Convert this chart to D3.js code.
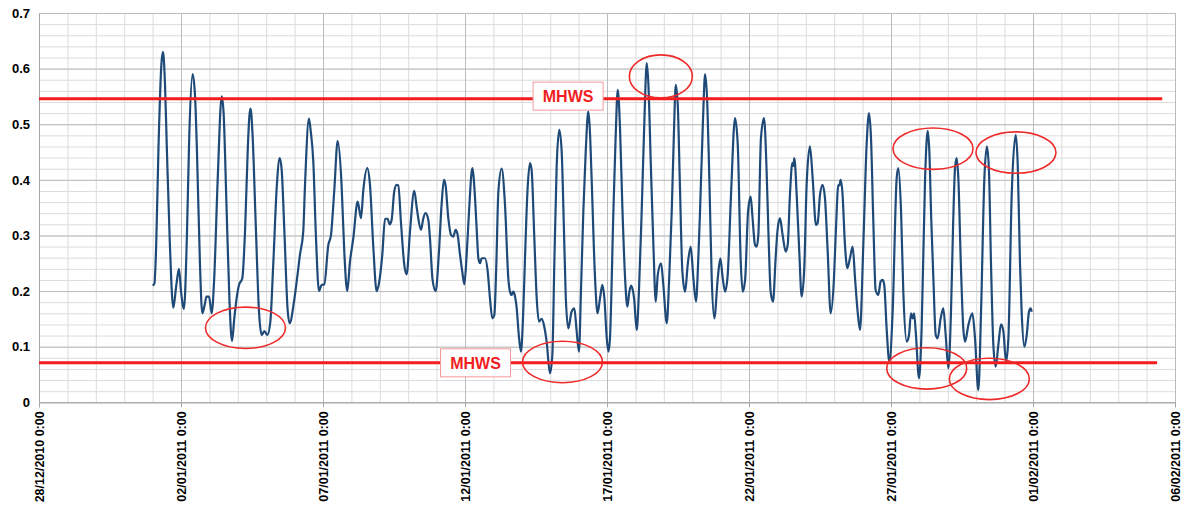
<!DOCTYPE html>
<html>
<head>
<meta charset="utf-8">
<script src="https://cdn.jsdelivr.net/npm/d3@7"></script>
<style>
  body { margin: 0; background: #fff; }
  svg { display: block; font-family: "Liberation Sans", Arial, sans-serif; }
</style>
</head>
<body>
<div id="chart"></div>
<script>
// Size of the picture
var width = 1184;
var height = 508;
var margin = {top: 13, right: 9, bottom: 105.7, left: 39};

// Axis extent and ticks
var xStart = new Date(2010, 11, 28);
var xEnd = new Date(2011, 1, 6);
var seriesStart = new Date(2011, 0, 1);   // first reading, 01/01/2011 0:00
var yTicks = [0, 0.1, 0.2, 0.3, 0.4, 0.5, 0.6, 0.7];
var yTickLabels = ["0", "0.1", "0.2", "0.3", "0.4", "0.5", "0.6", "0.7"];

// readings: [hours since 01/01/2011 0:00, water level]
var readings = [
  [0,0.21],[1.5,0.213],[3,0.28],[5,0.46],[7.5,0.61],[8.8,0.63],[10.5,0.57],[12,0.46],[14.5,0.29],[17.5,0.17],
  [20,0.21],[22.3,0.24],[24,0.2],[26.5,0.168],[29,0.3],[31,0.48],[33.8,0.59],[35.8,0.553],[37.5,0.45],[40,0.25],
  [42,0.16],[44,0.175],[45.5,0.19],[47.7,0.19],[49.9,0.16],[52,0.22],[55,0.4],[58.4,0.55],[60,0.52],[62.5,0.35],
  [65,0.18],[67.1,0.11],[69,0.15],[71,0.187],[73,0.211],[75.8,0.223],[78.1,0.307],[80.5,0.46],[81.8,0.515],[82.8,0.528],
  [84.5,0.48],[87,0.33],[90,0.16],[92.2,0.121],[94.5,0.128],[97,0.121],[99.5,0.145],[102,0.25],[105,0.39],[107.4,0.439],
  [109,0.42],[111.5,0.3],[114,0.17],[115.8,0.142],[119.5,0.181],[122.5,0.23],[124.5,0.265],[127.3,0.307],[128.8,0.391],[132.1,0.51],
  [133.5,0.49],[135.8,0.433],[138,0.3],[140.6,0.2],[142.8,0.211],[145.1,0.212],[148.5,0.283],[150.7,0.3],[153.5,0.38],[156.4,0.47],
  [159.7,0.391],[162,0.27],[164.5,0.2],[166.8,0.253],[169.6,0.295],[173.3,0.361],[176.1,0.331],[178.1,0.382],[181.4,0.421],[183.7,0.391],
  [186.5,0.28],[189.3,0.2],[191.3,0.214],[194.1,0.265],[196.4,0.33],[198.6,0.33],[200.3,0.32],[202,0.328],[204.2,0.379],[206.2,0.391],
  [207.6,0.39],[210,0.32],[212.7,0.247],[214.7,0.23],[217.5,0.307],[221.1,0.38],[223.1,0.352],[224.5,0.331],[226.8,0.31],[228.8,0.331],
  [230.7,0.34],[233,0.328],[234.4,0.295],[236.6,0.22],[239.2,0.2],[242,0.271],[244.2,0.355],[246.2,0.4],[247.6,0.39],[249.9,0.331],
  [252.2,0.301],[254.1,0.298],[256.1,0.31],[257.8,0.301],[259.8,0.265],[261.7,0.235],[263.4,0.212],[265.4,0.265],[267.4,0.343],[270.2,0.421],
  [272.5,0.367],[273.9,0.31],[275.3,0.259],[276.7,0.25],[278.1,0.259],[280.9,0.259],[283.2,0.235],[285.1,0.187],[287.1,0.151],[288.8,0.157],
  [290.5,0.25],[292.2,0.379],[295,0.42],[297.8,0.355],[300.6,0.223],[302,0.199],[303.4,0.193],[304.8,0.199],[306,0.193],[307.7,0.169],
  [309.5,0.12],[311.3,0.091],[313,0.15],[314.7,0.259],[316.8,0.38],[318.9,0.43],[320.3,0.418],[322.5,0.3],[324.6,0.187],[326.5,0.145],
  [328.8,0.15],[331,0.136],[333,0.109],[335.8,0.052],[337.8,0.085],[339.5,0.25],[341.5,0.427],[343.7,0.49],[345.7,0.451],[347.5,0.32],
  [349.1,0.193],[351.3,0.133],[354.1,0.163],[356.4,0.169],[358.4,0.127],[360.3,0.091],[362,0.2],[364,0.343],[366,0.45],[368.2,0.523],
  [369.5,0.49],[371,0.403],[373.9,0.223],[376,0.16],[378.1,0.187],[380.1,0.211],[381.8,0.187],[383.8,0.115],[385.2,0.091],[386.5,0.115],
  [389.4,0.343],[391.2,0.47],[393.1,0.562],[395,0.493],[397,0.35],[399.3,0.223],[401.2,0.172],[402.9,0.199],[404.3,0.21],[405.4,0.205],
  [406.9,0.187],[409.1,0.13],[411,0.2],[413.3,0.343],[415.5,0.5],[417.6,0.61],[419,0.571],[421,0.43],[423.2,0.283],[425.2,0.181],
  [426.9,0.229],[429.7,0.25],[431.6,0.211],[434.5,0.142],[436.5,0.22],[438.7,0.343],[440.5,0.48],[442.1,0.571],[443.8,0.535],[445.5,0.4],
  [447.7,0.235],[450,0.199],[452.2,0.247],[454.7,0.28],[457,0.223],[459.2,0.181],[461,0.25],[462.6,0.343],[465,0.5],[466.9,0.59],
  [468.8,0.535],[470.5,0.4],[472.5,0.223],[474.7,0.151],[477.6,0.223],[479.8,0.259],[481.8,0.223],[483.8,0.199],[486,0.229],[488.8,0.373],
  [492.2,0.511],[494.5,0.463],[497,0.253],[498.7,0.199],[500.7,0.22],[503.2,0.343],[505.4,0.37],[506.8,0.337],[509.1,0.283],[510.5,0.28],
  [511.9,0.301],[514.1,0.475],[516.7,0.511],[518.9,0.415],[520.5,0.3],[522.3,0.199],[524.3,0.181],[526.5,0.259],[528,0.307],[530.2,0.331],
  [532.4,0.301],[535,0.271],[536.7,0.283],[538.6,0.373],[540.6,0.43],[541.5,0.425],[542.3,0.439],[544.3,0.373],[546.5,0.27],[548.5,0.19],
  [550.7,0.241],[552.7,0.391],[555.5,0.46],[557.8,0.403],[560.6,0.319],[562,0.322],[564,0.373],[566.2,0.391],[568.2,0.367],[570.5,0.271],
  [573,0.16],[575.8,0.223],[577.5,0.313],[579.5,0.391],[580.5,0.39],[581.4,0.4],[582.9,0.379],[585.1,0.283],[587.1,0.241],[589.3,0.259],
  [591.6,0.28],[593.6,0.223],[595.8,0.163],[597.8,0.13],[600.6,0.283],[603.4,0.463],[605.4,0.52],[607.1,0.475],[609,0.33],[611,0.202],
  [613.3,0.193],[615.2,0.217],[616.9,0.22],[618.3,0.211],[620.3,0.133],[622.6,0.073],[625.4,0.163],[628.8,0.403],[630.2,0.421],[632.5,0.343],
  [634.4,0.199],[637.3,0.109],[639.2,0.121],[640.9,0.16],[642.3,0.151],[643.5,0.16],[644.9,0.127],[647.7,0.043],[649.9,0.133],[652.8,0.403],
  [655,0.488],[656.4,0.451],[658,0.33],[659.8,0.223],[661.8,0.121],[663.4,0.115],[666,0.151],[668.2,0.169],[670.2,0.121],[672.5,0.061],
  [674.7,0.163],[676.5,0.32],[678.1,0.421],[679.5,0.439],[680.9,0.403],[683,0.25],[685.1,0.133],[686.6,0.109],[689.4,0.139],[692.8,0.16],
  [695,0.115],[697.8,0.022],[700.1,0.163],[702.9,0.403],[705.1,0.46],[706.8,0.415],[708.5,0.25],[710.5,0.103],[712.5,0.064],[714.7,0.103],
  [717,0.14],[719,0.127],[721.2,0.073],[723.2,0.115],[726,0.373],[729.4,0.481],[731.1,0.427],[733,0.25],[734.4,0.163],[736.7,0.1],
  [738.7,0.121],[740.6,0.163],[742,0.169],[742.9,0.163]
];

// MHWS reference lines: level, end of the drawn line and label centre (days after 28/12/2010)
var mhwsLevel = [0.546, 0.071];
var mhwsEndDay = [39.55, 39.37];
var mhwsLabelDay = [18.63, 15.37];

// circled spots: [hours since 01/01/2011, level]
var circled = [[78.5,0.134],[346.4,0.0725],[429.5,0.586],[659.5,0.456],[729.6,0.449],[654.2,0.061],[707.1,0.042]];
var circledWide = [true, true, false, true, true, true, true];

// scales
var x = d3.scaleTime()
          .domain([xStart, xEnd])
          .range([margin.left, width - margin.right]);
var y = d3.scaleLinear()
          .domain([0, 0.7])
          .range([height - margin.bottom, margin.top]);

var svg = d3.select("#chart").append("svg")
            .attr("width", width)
            .attr("height", height);

// minor gridlines (daily, every 0.02)
var days = d3.timeDay.range(xStart, d3.timeDay.offset(xEnd, 1));
svg.append("g")
   .attr("transform", "translate(0," + y(0) + ")")
   .call(d3.axisBottom(x).tickValues(days).tickSize(-(y(0) - y(0.7))).tickFormat(""))
   .call(function(g) { g.select(".domain").remove(); })
   .selectAll("line").attr("stroke", "#dcdcdc");

var fine = d3.range(0, 36).map(function(i) { return i / 50; });
svg.append("g")
   .attr("transform", "translate(" + margin.left + ",0)")
   .call(d3.axisLeft(y).tickValues(fine).tickSize(-(width - margin.left - margin.right)).tickFormat(""))
   .call(function(g) { g.select(".domain").remove(); })
   .selectAll("line").attr("stroke", "#dcdcdc");

// major gridlines (5 days, 0.1)
var fiveDays = d3.range(9).map(function(i) { return d3.timeDay.offset(xStart, i * 5); });
svg.append("g")
   .attr("transform", "translate(0," + y(0) + ")")
   .call(d3.axisBottom(x).tickValues(fiveDays).tickSize(-(y(0) - y(0.7))).tickFormat(""))
   .call(function(g) { g.select(".domain").remove(); })
   .selectAll("line").attr("stroke", "#bcbcbc");

svg.append("g")
   .attr("transform", "translate(" + margin.left + ",0)")
   .call(d3.axisLeft(y).tickValues(yTicks).tickSize(-(width - margin.left - margin.right)).tickFormat(""))
   .call(function(g) { g.select(".domain").remove(); })
   .selectAll("line").attr("stroke", "#bcbcbc");

// x axis with rotated date labels
var fmt = d3.timeFormat("%d/%m/%Y %-H:%M");
var xAxis = svg.append("g")
   .attr("transform", "translate(0," + y(0) + ")")
   .call(d3.axisBottom(x).tickValues(fiveDays).tickSize(5).tickFormat(fmt));
xAxis.select(".domain").attr("stroke", "#a6a6a6");
xAxis.selectAll("line").attr("stroke", "#a6a6a6");
xAxis.selectAll("text")
     .attr("transform", "rotate(-90)")
     .attr("x", -9)
     .attr("y", 0)
     .attr("dy", ".35em")
     .style("text-anchor", "end")
     .style("font-size", "12.5px")
     .style("font-weight", "bold")
     .attr("fill", "#000");

// y axis
var yAxis = svg.append("g")
   .attr("transform", "translate(" + margin.left + ",0)")
   .call(d3.axisLeft(y).tickValues(yTicks).tickSize(0).tickPadding(9)
         .tickFormat(function(d, i) { return yTickLabels[i]; }));
yAxis.select(".domain").attr("stroke", "#a6a6a6");
yAxis.selectAll("text")
     .style("font-size", "13px")
     .style("font-weight", "bold")
     .attr("fill", "#000");

// water level line
var line = d3.line()
             .x(function(d) { return x(d3.timeMinute.offset(seriesStart, Math.round(d[0] * 60))); })
             .y(function(d) { return y(d[1]); })
             .curve(d3.curveMonotoneX);

svg.append("path")
   .datum(readings)
   .attr("d", line)
   .attr("fill", "none")
   .attr("stroke", "#1f4a78")
   .attr("stroke-width", 2.2)
   .attr("stroke-linejoin", "round");

// MHWS lines and labels
mhwsLevel.forEach(function(lv, i) {
  var endDate = d3.timeMinute.offset(xStart, Math.round(mhwsEndDay[i] * 1440));
  svg.append("line")
     .attr("x1", x(xStart)).attr("x2", x(endDate))
     .attr("y1", y(lv)).attr("y2", y(lv))
     .attr("stroke", "#f41c1c")
     .attr("stroke-width", 3);

  var cx = x(d3.timeMinute.offset(xStart, Math.round(mhwsLabelDay[i] * 1440)));
  var cy = y(lv) - (i == 0 ? 2.5 : 0);
  svg.append("rect")
     .attr("x", cx - 35).attr("y", cy - 14)
     .attr("width", 70).attr("height", 28)
     .attr("fill", "#fff")
     .attr("stroke", "#f39a9a")
     .attr("stroke-width", 1);
  svg.append("text")
     .attr("x", cx).attr("y", cy)
     .attr("dy", "0.36em")
     .attr("text-anchor", "middle")
     .style("font-size", "16px")
     .style("font-weight", "bold")
     .attr("fill", "#f01e23")
     .text("MHWS");
});

// red circles round the spots
svg.selectAll("ellipse")
   .data(circled)
   .enter()
   .append("ellipse")
   .attr("cx", function(d) { return x(d3.timeMinute.offset(seriesStart, Math.round(d[0] * 60))); })
   .attr("cy", function(d) { return y(d[1]); })
   .attr("rx", function(d, i) { return circledWide[i] ? 40 : 31.5; })
   .attr("ry", function(d, i) { return circledWide[i] ? 20.7 : 21.5; })
   .attr("fill", "none")
   .attr("stroke", "#ef2a2a")
   .attr("stroke-width", 1.6);
</script>
</body>
</html>
